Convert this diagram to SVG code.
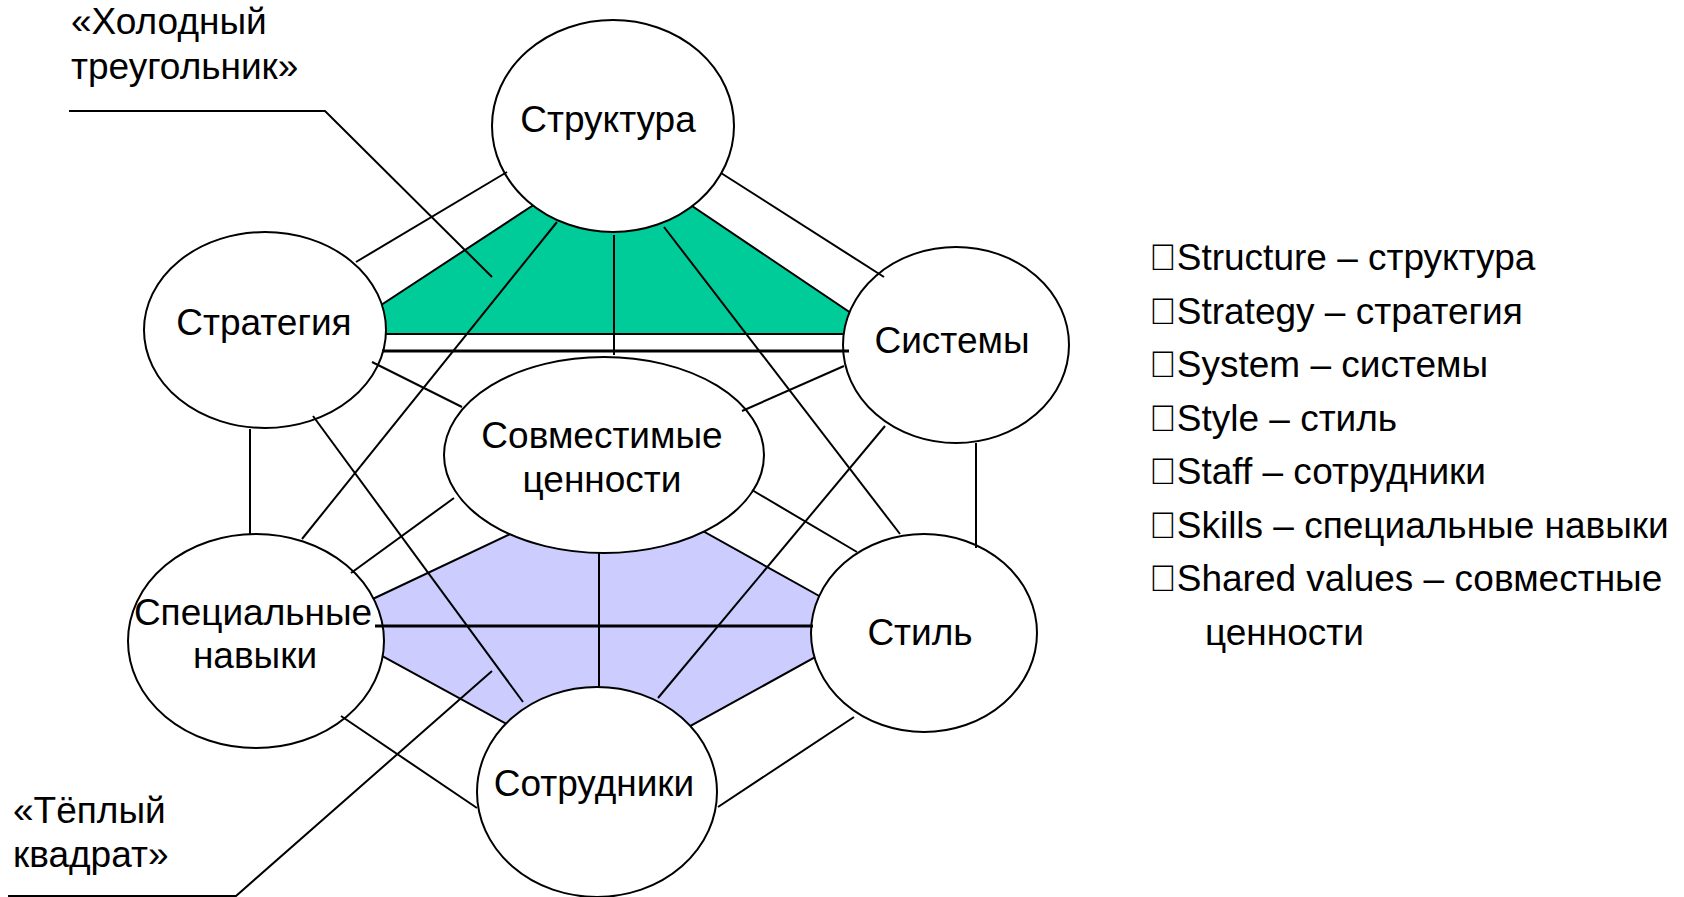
<svg xmlns="http://www.w3.org/2000/svg" width="1684" height="897" viewBox="0 0 1684 897">
  <style>
    text { font-family: "Liberation Sans", Arial, sans-serif; fill: #000; }
    .node ellipse { fill: #fff; stroke: #000; stroke-width: 2; }
    .node text { font-size: 37px; text-anchor: middle; }
    .zone { stroke: #000; stroke-width: 2; stroke-linejoin: miter; }
    .cold { fill: #00CC99; }
    .warm { fill: #CCCCFF; }
    #connectors line { stroke: #000; stroke-width: 2; }
    #connectors line.bold { stroke-width: 3; }
    .callout path { fill: none; stroke: #000; stroke-width: 2; }
    .callout text { font-size: 37px; }
    #legend text { font-size: 37px; }
  </style>

  <!-- shaded zones behind the circles -->
  <g id="zones">
    <polygon class="zone cold" points="532,206 692,206 882,334 337,334"/>
    <polygon class="zone warm" points="540,520 683,520 830,602 830,649 665,740 536,740 360,644 360,605"/>
  </g>

  <!-- the seven elements -->
  <g id="node-structure" class="node">
    <ellipse cx="613" cy="126" rx="121" ry="106"/>
    <text x="608" y="132">Структура</text>
  </g>
  <g id="node-strategy" class="node">
    <ellipse cx="265" cy="330" rx="121" ry="98"/>
    <text x="264" y="335">Стратегия</text>
  </g>
  <g id="node-systems" class="node">
    <ellipse cx="956" cy="345" rx="113" ry="98"/>
    <text x="952" y="353">Системы</text>
  </g>
  <g id="node-shared-values" class="node">
    <ellipse cx="604" cy="455" rx="160" ry="98"/>
    <text x="602" y="448">Совместимые</text>
    <text x="602" y="492">ценности</text>
  </g>
  <g id="node-skills" class="node">
    <ellipse cx="256" cy="641" rx="128" ry="107"/>
    <text x="253" y="625">Специальные</text>
    <text x="255" y="668">навыки</text>
  </g>
  <g id="node-style" class="node">
    <ellipse cx="924" cy="633" rx="113" ry="99"/>
    <text x="920" y="645">Стиль</text>
  </g>
  <g id="node-staff" class="node">
    <ellipse cx="597" cy="792" rx="120" ry="105"/>
    <text x="594" y="796">Сотрудники</text>
  </g>

  <!-- links between the elements -->
  <g id="connectors">
    <line x1="507" y1="172" x2="356" y2="262"/>
    <line x1="721" y1="173" x2="884" y2="277"/>
    <line x1="614" y1="235" x2="614" y2="355"/>
    <line x1="557" y1="222" x2="302" y2="539"/>
    <line x1="664" y1="227" x2="900" y2="534"/>
    <line class="bold" x1="382" y1="351" x2="849" y2="351"/>
    <line x1="372" y1="362" x2="462" y2="407"/>
    <line x1="250" y1="429" x2="250" y2="534"/>
    <line x1="313" y1="416" x2="523" y2="702"/>
    <line x1="844" y1="366" x2="742" y2="411"/>
    <line x1="976" y1="443" x2="976" y2="548"/>
    <line x1="885" y1="426" x2="658" y2="698"/>
    <line x1="454" y1="498" x2="351" y2="573"/>
    <line x1="752" y1="490" x2="857" y2="552"/>
    <line x1="599" y1="552" x2="599" y2="688"/>
    <line class="bold" x1="375" y1="626" x2="813" y2="626"/>
    <line x1="341" y1="716" x2="477" y2="808"/>
    <line x1="854" y1="717" x2="718" y2="807"/>
  </g>

  <!-- zone labels with pointers -->
  <g id="callout-cold" class="callout">
    <text x="71" y="34">«Холодный</text>
    <text x="71" y="79">треугольник»</text>
    <path d="M69,111 H325 L492,277"/>
  </g>
  <g id="callout-warm" class="callout">
    <text x="13" y="823">«Тёплый</text>
    <text x="13" y="867">квадрат»</text>
    <path d="M8,896 H236 L492,671"/>
  </g>

  <!-- glossary; each entry starts with a symbol-font bullet -->
  <g id="legend">
    <text x="1149" y="270">&#xF0A7;Structure – структура</text>
    <text x="1149" y="324">&#xF0A7;Strategy – стратегия</text>
    <text x="1149" y="377">&#xF0A7;System – системы</text>
    <text x="1149" y="431">&#xF0A7;Style – стиль</text>
    <text x="1149" y="484">&#xF0A7;Staff – сотрудники</text>
    <text x="1149" y="538">&#xF0A7;Skills – специальные навыки</text>
    <text x="1149" y="591">&#xF0A7;Shared values – совместные</text>
    <text x="1205" y="645">ценности</text>
  </g>
</svg>
